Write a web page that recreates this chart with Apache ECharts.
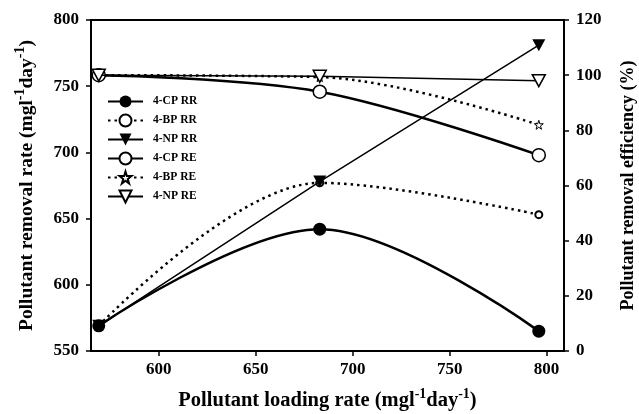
<!DOCTYPE html>
<html>
<head>
<meta charset="utf-8">
<script src="https://cdn.jsdelivr.net/npm/echarts@6/dist/echarts.min.js"></script>
<style>
  html, body { margin: 0; padding: 0; background: #fff; }
  #main { width: 639px; height: 414px; }
</style>
</head>
<body>
<div id="main"></div>
<script>
// loading rate (x) for the three runs
const loadX = [569, 683, 796];
// removal rate, mg/l/day (left axis)
const cpRR = [569, 642, 565];
const bpRR = [569, 677, 653];
const npRR = [569, 678, 781];
// removal efficiency, % (right axis)
const cpRE = [100, 94, 71];
const bpRE = [100, 99.3, 82];
const npRE = [100, 99.6, 98];

const xTicks = [600, 650, 700, 750, 800];

const font = "Liberation Serif";
const downTri = "path://M0,0 L10,0 L5,9 Z";
const star = "path://M50,0 L61,35 L98,35 L68,57 L79,91 L50,70 L21,91 L32,57 L2,35 L39,35 Z";

function pairs(ys) {
  return loadX.map(function (x, i) { return [x, ys[i]]; });
}

function nameStyle(size) {
  return {
    fontFamily: font, fontWeight: "bold", fontSize: size, color: "#000",
    rich: {
      b: { fontFamily: font, fontWeight: "bold", fontSize: size, color: "#000", lineHeight: 24, verticalAlign: "bottom" },
      sup: { fontFamily: font, fontWeight: "bold", fontSize: 14, color: "#000", lineHeight: 24, verticalAlign: "top" }
    }
  };
}
const tickLabel = { fontFamily: font, fontWeight: "bold", fontSize: 17, color: "#000" };
const axisLine = { show: true, lineStyle: { color: "#000", width: 2 } };
const axisTick = { show: true, inside: false, length: 5, lineStyle: { color: "#000", width: 1.5 } };

let option = {
  animation: false,
  grid: {
    left: 91, right: 75, top: 20, bottom: 63,
    outerBoundsMode: "none",
    show: true, borderColor: "#000", borderWidth: 2
  },
  legend: {
    orient: "vertical",
    left: 102,
    top: 89,
    itemWidth: 35,
    itemHeight: 15,
    itemGap: 4,
    textStyle: { fontFamily: font, fontWeight: "bold", fontSize: 11.5, color: "#000", padding: [0, 0, 0, 5], lineHeight: 15 },
    data: ["4-CP RR", "4-BP RR", "4-NP RR", "4-CP RE", "4-BP RE", "4-NP RE"]
  },
  xAxis: {
    type: "value",
    min: 565,
    max: 809,
    name: "{b|Pollutant loading rate (mgl}{sup|-1}{b|day}{sup|-1}{b|)}",
    nameLocation: "middle",
    nameGap: 36,
    nameTextStyle: nameStyle(20.5),
    axisLine: axisLine,
    axisTick: Object.assign({ customValues: xTicks }, axisTick),
    axisLabel: Object.assign({ customValues: xTicks, margin: 10 }, tickLabel),
    splitLine: { show: false }
  },
  yAxis: [
    {
      type: "value",
      position: "left",
      min: 550,
      max: 800,
      interval: 50,
      name: "{b|Pollutant removal rate (mgl}{sup|-1}{b|day}{sup|-1}{b|)}",
      nameLocation: "middle",
      nameGap: 54,
      nameTextStyle: nameStyle(19.5),
      axisLine: axisLine,
      axisTick: axisTick,
      axisLabel: Object.assign({ margin: 12 }, tickLabel),
      splitLine: { show: false }
    },
    {
      type: "value",
      position: "right",
      min: 0,
      max: 120,
      interval: 20,
      name: "Pollutant removal efficiency (%)",
      nameLocation: "middle",
      nameGap: 55,
      nameRotate: 90,
      nameTextStyle: { fontFamily: font, fontWeight: "bold", fontSize: 18, color: "#000" },
      axisLine: axisLine,
      axisTick: axisTick,
      axisLabel: Object.assign({ margin: 12 }, tickLabel),
      splitLine: { show: false }
    }
  ],
  series: [
    {
      name: "4-CP RR", type: "line", yAxisIndex: 0, smooth: 0.35,
      symbol: "circle", symbolSize: 13,
      itemStyle: { color: "#000" },
      lineStyle: { color: "#000", width: 2.5 },
      data: pairs(cpRR), z: 3
    },
    {
      name: "4-BP RR", type: "line", yAxisIndex: 0, smooth: 0.35,
      symbol: "circle", symbolSize: 7,
      itemStyle: { color: "#fff", borderColor: "#000", borderWidth: 2 },
      lineStyle: { color: "#000", width: 2.5, type: [2.5, 4] },
      data: pairs(bpRR), z: 2
    },
    {
      name: "4-NP RR", type: "line", yAxisIndex: 0,
      symbol: downTri, symbolSize: [13, 12],
      itemStyle: { color: "#000" },
      lineStyle: { color: "#000", width: 1.5 },
      data: pairs(npRR), z: 4
    },
    {
      name: "4-CP RE", type: "line", yAxisIndex: 1, smooth: 0.35,
      symbol: "circle", symbolSize: 13,
      itemStyle: { color: "#fff", borderColor: "#000", borderWidth: 1.5 },
      lineStyle: { color: "#000", width: 2.5 },
      data: pairs(cpRE), z: 3
    },
    {
      name: "4-BP RE", type: "line", yAxisIndex: 1, smooth: 0.35,
      symbol: star, symbolSize: 9,
      itemStyle: { color: "#fff", borderColor: "#000", borderWidth: 1 },
      lineStyle: { color: "#000", width: 2.5, type: [2.5, 4] },
      data: pairs(bpRE), z: 2
    },
    {
      name: "4-NP RE", type: "line", yAxisIndex: 1,
      symbol: downTri, symbolSize: [13, 12],
      itemStyle: { color: "#fff", borderColor: "#000", borderWidth: 1.5 },
      lineStyle: { color: "#000", width: 1.5 },
      data: pairs(npRE), z: 4
    }
  ]
};

let myChart = echarts.init(document.getElementById("main"));
option && myChart.setOption(option);
</script>
</body>
</html>
